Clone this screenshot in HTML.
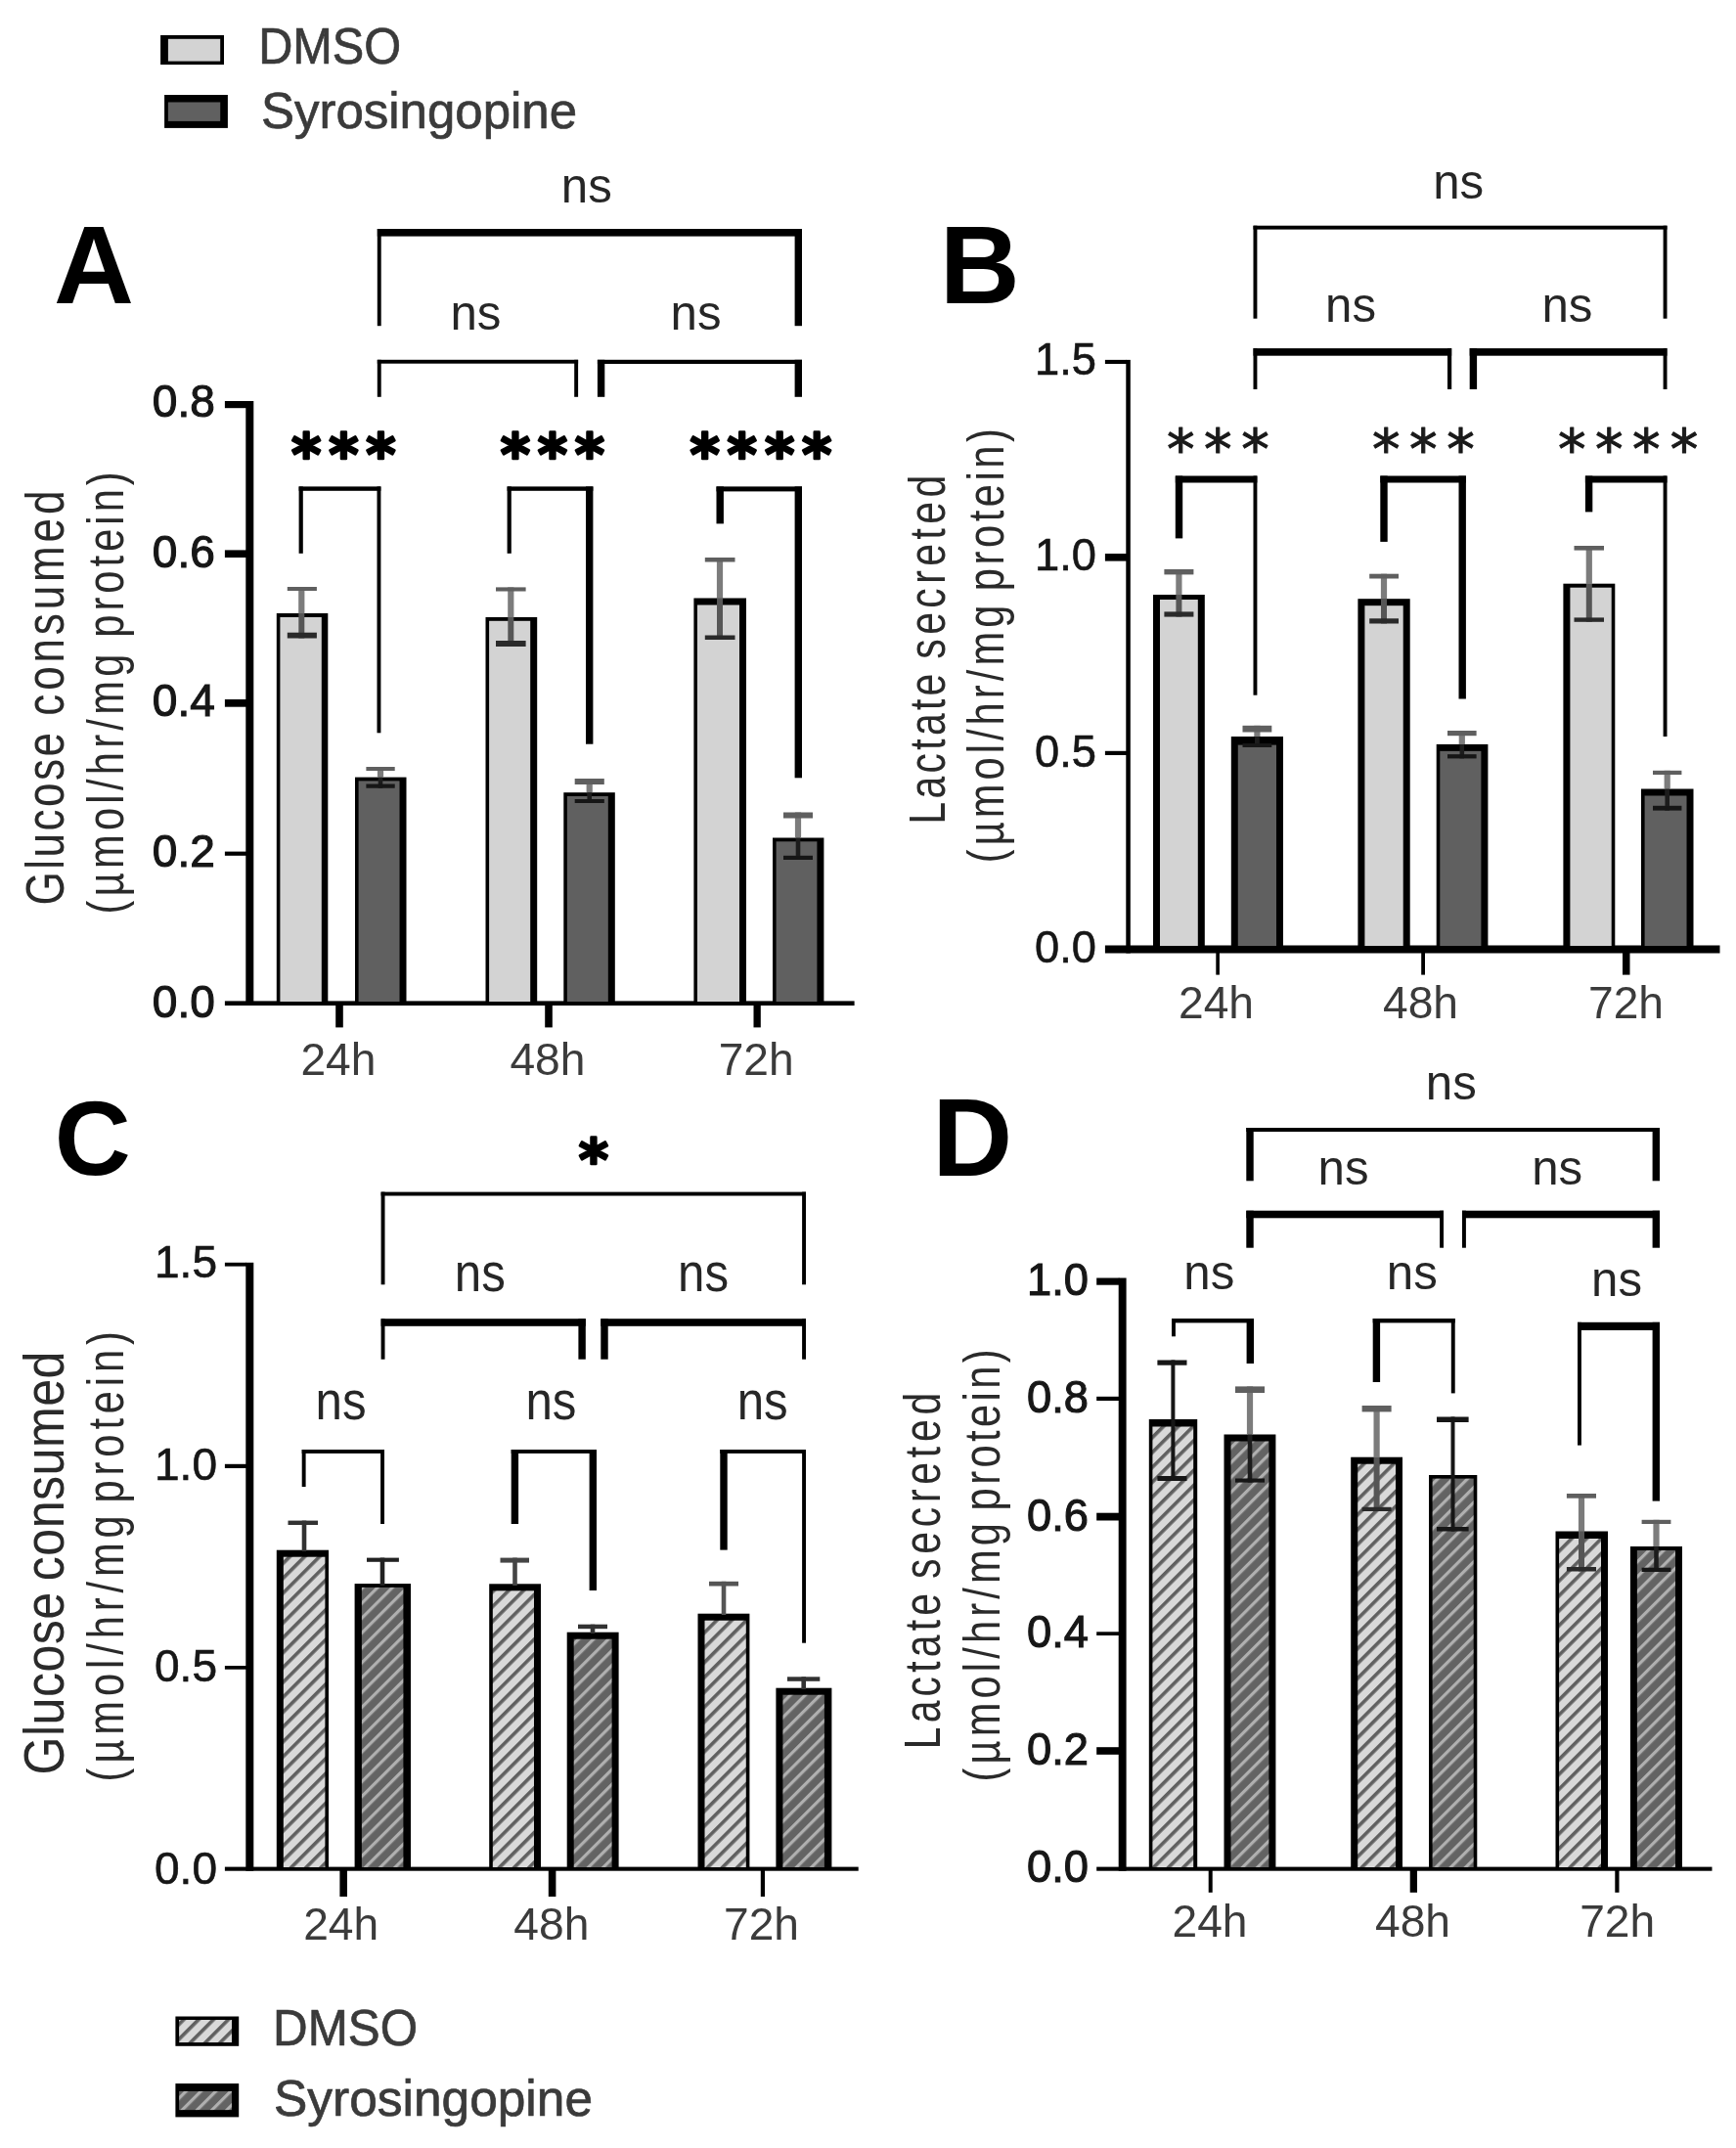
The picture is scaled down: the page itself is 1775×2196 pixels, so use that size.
<!DOCTYPE html>
<html><head><meta charset="utf-8"><title>Figure</title>
<style>html,body{margin:0;padding:0;background:#fff}svg{display:block}text{font-family:"Liberation Sans",sans-serif}text.dj{font-family:"DejaVu Sans",sans-serif}</style></head>
<body>
<svg width="1775" height="2196" viewBox="0 0 1775 2196">
<defs>
<pattern id="hl" width="10.75" height="10.75" patternUnits="userSpaceOnUse" patternTransform="rotate(-45)">
<rect width="10.75" height="10.75" fill="#d9d9d9"/><rect width="10.75" height="3.6" fill="#606060"/></pattern>
<pattern id="hd" width="10.75" height="10.75" patternUnits="userSpaceOnUse" patternTransform="rotate(-45)">
<rect width="10.75" height="10.75" fill="#636363"/><rect width="10.75" height="3.2" fill="#b0b0b0"/></pattern>
<filter id="bl" x="0" y="0" width="1775" height="2196" filterUnits="userSpaceOnUse"><feGaussianBlur stdDeviation="0.75"/></filter>
</defs>
<rect width="1775" height="2196" fill="#fff"/>
<g filter="url(#bl)">
<rect x="164.1" y="36.0" width="64.9" height="30.1" fill="#000"/>
<rect x="171.9" y="39.8" width="53.3" height="22.8" fill="#d3d3d3"/>
<rect x="168.1" y="97.0" width="64.8" height="33.9" fill="#000"/>
<rect x="171.9" y="104.5" width="53.3" height="19.4" fill="#606060"/>
<text x="264.2" y="65.4" font-size="51.7" font-weight="normal" text-anchor="start" fill="#3a3a3a" textLength="146.0" lengthAdjust="spacingAndGlyphs" stroke="#3a3a3a" stroke-width="0.7">DMSO</text>
<text x="267.0" y="131.0" font-size="51.7" font-weight="normal" text-anchor="start" fill="#3a3a3a" textLength="323.0" lengthAdjust="spacingAndGlyphs" stroke="#3a3a3a" stroke-width="0.7">Syrosingopine</text>
<rect x="179.4" y="2061.5" width="64.8" height="30.3" fill="#000"/>
<rect x="183.1" y="2065.0" width="53.9" height="23.1" fill="url(#hl)"/>
<rect x="179.4" y="2130.1" width="64.8" height="34.3" fill="#000"/>
<rect x="183.1" y="2138.0" width="53.9" height="19.1" fill="url(#hd)"/>
<text x="279.0" y="2091.3" font-size="51.7" font-weight="normal" text-anchor="start" fill="#3a3a3a" textLength="148.0" lengthAdjust="spacingAndGlyphs" stroke="#3a3a3a" stroke-width="0.7">DMSO</text>
<text x="280.0" y="2162.6" font-size="51.7" font-weight="normal" text-anchor="start" fill="#3a3a3a" textLength="326.0" lengthAdjust="spacingAndGlyphs" stroke="#3a3a3a" stroke-width="0.7">Syrosingopine</text>
<text x="55.0" y="309.8" font-size="113.5" font-weight="bold" text-anchor="start" fill="#000">A</text>
<text x="960.8" y="310.0" font-size="113.5" font-weight="bold" text-anchor="start" fill="#000">B</text>
<text x="55.8" y="1200.8" font-size="108" font-weight="bold" text-anchor="start" fill="#000">C</text>
<text x="953.2" y="1202.2" font-size="113.5" font-weight="bold" text-anchor="start" fill="#000">D</text>
<text transform="translate(65.2,925.4) rotate(-90) scale(0.8,1)" font-size="55" text-anchor="start" fill="#2c2c2c" textLength="220.6" lengthAdjust="spacing">Glucose</text>
<text transform="translate(65.2,731.7) rotate(-90) scale(0.8,1)" font-size="55" text-anchor="start" fill="#2c2c2c" textLength="287.6" lengthAdjust="spacing">consumed</text>
<text transform="translate(126.3,934.5) rotate(-90) scale(0.8,1)" font-size="52" text-anchor="start" fill="#2c2c2c" textLength="332.3" lengthAdjust="spacing">(µmol/hr/mg</text>
<text transform="translate(126.3,651.8) rotate(-90) scale(0.8,1)" font-size="52" text-anchor="start" fill="#2c2c2c" textLength="211.9" lengthAdjust="spacing">protein)</text>
<text transform="translate(965.8,842.4) rotate(-90) scale(0.8,1)" font-size="51" text-anchor="start" fill="#2c2c2c" textLength="192.1" lengthAdjust="spacing">Lactate</text>
<text transform="translate(965.8,673.7) rotate(-90) scale(0.8,1)" font-size="51" text-anchor="start" fill="#2c2c2c" textLength="234.9" lengthAdjust="spacing">secreted</text>
<text transform="translate(1026.3,882.3) rotate(-90) scale(0.8,1)" font-size="52" text-anchor="start" fill="#2c2c2c" textLength="329.5" lengthAdjust="spacing">(µmol/hr/mg</text>
<text transform="translate(1026.3,604.2) rotate(-90) scale(0.8,1)" font-size="52" text-anchor="start" fill="#2c2c2c" textLength="207.7" lengthAdjust="spacing">protein)</text>
<text transform="translate(65.2,1814.5) rotate(-90) scale(0.88,1)" font-size="57" text-anchor="start" fill="#2c2c2c" textLength="212.2" lengthAdjust="spacing">Glucose</text>
<text transform="translate(65.2,1616.2) rotate(-90) scale(0.88,1)" font-size="57" text-anchor="start" fill="#2c2c2c" textLength="266.6" lengthAdjust="spacing">consumed</text>
<text transform="translate(126.3,1821.4) rotate(-90) scale(0.8,1)" font-size="52" text-anchor="start" fill="#2c2c2c" textLength="340.2" lengthAdjust="spacing">(µmol/hr/mg</text>
<text transform="translate(126.3,1536.4) rotate(-90) scale(0.8,1)" font-size="52" text-anchor="start" fill="#2c2c2c" textLength="219.1" lengthAdjust="spacing">protein)</text>
<text transform="translate(960.8,1788.3) rotate(-90) scale(0.8,1)" font-size="51" text-anchor="start" fill="#2c2c2c" textLength="199.1" lengthAdjust="spacing">Lactate</text>
<text transform="translate(960.8,1613.9) rotate(-90) scale(0.8,1)" font-size="51" text-anchor="start" fill="#2c2c2c" textLength="237.6" lengthAdjust="spacing">secreted</text>
<text transform="translate(1021.7,1821.4) rotate(-90) scale(0.8,1)" font-size="52" text-anchor="start" fill="#2c2c2c" textLength="330.4" lengthAdjust="spacing">(µmol/hr/mg</text>
<text transform="translate(1021.7,1544.4) rotate(-90) scale(0.8,1)" font-size="52" text-anchor="start" fill="#2c2c2c" textLength="206.4" lengthAdjust="spacing">protein)</text>
<rect x="251.3" y="410.0" width="8.0" height="618.0" fill="#000"/>
<rect x="229.9" y="1023.4" width="643.7" height="4.6" fill="#000"/>
<rect x="229.9" y="410.0" width="22.1" height="7.2" fill="#000"/>
<rect x="229.9" y="562.4" width="22.1" height="7.6" fill="#000"/>
<rect x="229.9" y="715.0" width="22.1" height="7.7" fill="#000"/>
<rect x="229.9" y="870.6" width="22.1" height="4.2" fill="#000"/>
<text x="219.8" y="426.2" font-size="47" font-weight="normal" text-anchor="end" fill="#141414" textLength="64.0" lengthAdjust="spacingAndGlyphs" stroke="#141414" stroke-width="1.1">0.8</text>
<text x="219.8" y="579.7" font-size="47" font-weight="normal" text-anchor="end" fill="#141414" textLength="64.0" lengthAdjust="spacingAndGlyphs" stroke="#141414" stroke-width="1.1">0.6</text>
<text x="219.8" y="732.4" font-size="47" font-weight="normal" text-anchor="end" fill="#141414" textLength="64.0" lengthAdjust="spacingAndGlyphs" stroke="#141414" stroke-width="1.1">0.4</text>
<text x="219.8" y="886.2" font-size="47" font-weight="normal" text-anchor="end" fill="#141414" textLength="64.0" lengthAdjust="spacingAndGlyphs" stroke="#141414" stroke-width="1.1">0.2</text>
<text x="219.8" y="1039.9" font-size="47" font-weight="normal" text-anchor="end" fill="#141414" textLength="64.0" lengthAdjust="spacingAndGlyphs" stroke="#141414" stroke-width="1.1">0.0</text>
<rect x="343.2" y="1027.0" width="7.6" height="23.4" fill="#000"/>
<rect x="557.2" y="1027.0" width="7.6" height="23.4" fill="#000"/>
<rect x="770.5" y="1027.0" width="7.3" height="23.4" fill="#000"/>
<text x="345.9" y="1098.5" font-size="45.5" font-weight="normal" text-anchor="middle" fill="#3a3a3a" textLength="77.0" lengthAdjust="spacingAndGlyphs">24h</text>
<text x="559.9" y="1098.5" font-size="45.5" font-weight="normal" text-anchor="middle" fill="#3a3a3a" textLength="77.0" lengthAdjust="spacingAndGlyphs">48h</text>
<text x="773.2" y="1098.5" font-size="45.5" font-weight="normal" text-anchor="middle" fill="#3a3a3a" textLength="77.0" lengthAdjust="spacingAndGlyphs">72h</text>
<rect x="282.8" y="627.0" width="52.5" height="397.0" fill="#000"/>
<rect x="286.4" y="631.0" width="42.4" height="393.0" fill="#d3d3d3"/>
<rect x="363.0" y="794.6" width="52.5" height="229.4" fill="#000"/>
<rect x="366.6" y="798.4" width="41.9" height="225.6" fill="#606060"/>
<rect x="496.5" y="631.0" width="52.7" height="393.0" fill="#000"/>
<rect x="500.1" y="634.8" width="42.1" height="389.2" fill="#d3d3d3"/>
<rect x="576.3" y="810.2" width="52.5" height="213.8" fill="#000"/>
<rect x="579.9" y="814.0" width="41.9" height="210.0" fill="#606060"/>
<rect x="709.4" y="611.5" width="53.6" height="412.5" fill="#000"/>
<rect x="713.0" y="618.5" width="43.0" height="405.5" fill="#d3d3d3"/>
<rect x="790.0" y="856.5" width="52.4" height="167.5" fill="#000"/>
<rect x="793.6" y="860.3" width="41.8" height="163.7" fill="#606060"/>
<rect x="305.2" y="600.0" width="6.2" height="27.0" fill="#7c7c7c"/>
<rect x="305.3" y="627.0" width="6.0" height="25.5" fill="#565656"/>
<rect x="293.8" y="600.0" width="30.1" height="4.0" fill="#5e5e5e"/>
<rect x="293.8" y="646.7" width="30.1" height="5.8" fill="#2a2a2a"/>
<rect x="385.9" y="784.0" width="6.2" height="10.6" fill="#7c7c7c"/>
<rect x="386.7" y="794.6" width="4.6" height="11.1" fill="#1e1e1e"/>
<rect x="374.4" y="784.0" width="29.3" height="4.0" fill="#5e5e5e"/>
<rect x="374.4" y="801.5" width="29.3" height="4.2" fill="#141414"/>
<rect x="519.2" y="600.4" width="6.2" height="30.6" fill="#7c7c7c"/>
<rect x="519.3" y="631.0" width="6.0" height="30.0" fill="#565656"/>
<rect x="507.0" y="600.4" width="30.6" height="4.1" fill="#5e5e5e"/>
<rect x="507.0" y="655.0" width="30.6" height="6.0" fill="#2a2a2a"/>
<rect x="599.6" y="796.0" width="6.2" height="14.2" fill="#7c7c7c"/>
<rect x="600.4" y="810.2" width="4.6" height="10.8" fill="#1e1e1e"/>
<rect x="587.7" y="796.0" width="30.1" height="6.0" fill="#5e5e5e"/>
<rect x="587.7" y="817.0" width="30.1" height="4.0" fill="#141414"/>
<rect x="732.9" y="570.0" width="6.2" height="41.5" fill="#7c7c7c"/>
<rect x="733.0" y="611.5" width="6.0" height="42.5" fill="#565656"/>
<rect x="720.8" y="570.0" width="30.7" height="4.5" fill="#5e5e5e"/>
<rect x="720.8" y="649.5" width="30.7" height="4.5" fill="#2a2a2a"/>
<rect x="812.9" y="830.5" width="6.2" height="26.0" fill="#7c7c7c"/>
<rect x="813.7" y="856.5" width="4.6" height="22.5" fill="#1e1e1e"/>
<rect x="801.0" y="830.5" width="30.0" height="6.0" fill="#5e5e5e"/>
<rect x="801.0" y="874.8" width="30.0" height="4.2" fill="#141414"/>
<rect x="385.8" y="234.0" width="434.2" height="7.6" fill="#000"/>
<rect x="385.8" y="234.0" width="3.9" height="99.2" fill="#000"/>
<rect x="812.6" y="234.0" width="7.4" height="99.2" fill="#000"/>
<rect x="385.8" y="367.8" width="205.3" height="3.9" fill="#000"/>
<rect x="385.8" y="367.8" width="3.9" height="38.0" fill="#000"/>
<rect x="587.2" y="367.8" width="3.9" height="38.0" fill="#000"/>
<rect x="610.9" y="367.8" width="209.1" height="4.2" fill="#000"/>
<rect x="610.9" y="367.8" width="7.4" height="38.0" fill="#000"/>
<rect x="812.6" y="367.8" width="7.4" height="38.0" fill="#000"/>
<rect x="305.6" y="497.4" width="83.8" height="4.4" fill="#000"/>
<rect x="305.6" y="497.4" width="4.2" height="68.4" fill="#000"/>
<rect x="385.5" y="497.4" width="3.9" height="251.9" fill="#000"/>
<rect x="518.6" y="497.4" width="87.8" height="4.4" fill="#000"/>
<rect x="518.6" y="497.4" width="4.2" height="68.4" fill="#000"/>
<rect x="599.0" y="497.4" width="7.4" height="263.3" fill="#000"/>
<rect x="732.5" y="497.4" width="87.5" height="5.0" fill="#000"/>
<rect x="732.5" y="497.4" width="7.4" height="38.0" fill="#000"/>
<rect x="812.6" y="497.4" width="7.4" height="297.9" fill="#000"/>
<text x="599.8" y="207.0" font-size="50.7" font-weight="normal" text-anchor="middle" fill="#262626" textLength="52.0" lengthAdjust="spacingAndGlyphs">ns</text>
<text x="486.4" y="336.7" font-size="50.7" font-weight="normal" text-anchor="middle" fill="#262626" textLength="52.0" lengthAdjust="spacingAndGlyphs">ns</text>
<text x="711.5" y="336.7" font-size="50.7" font-weight="normal" text-anchor="middle" fill="#262626" textLength="52.0" lengthAdjust="spacingAndGlyphs">ns</text>
<text class="dj" x="298.0" y="484.5" font-size="58" font-weight="bold" fill="#000" stroke="#000" stroke-width="2.6" stroke-linejoin="round">*</text>
<text class="dj" x="336.2" y="484.5" font-size="58" font-weight="bold" fill="#000" stroke="#000" stroke-width="2.6" stroke-linejoin="round">*</text>
<text class="dj" x="374.2" y="484.5" font-size="58" font-weight="bold" fill="#000" stroke="#000" stroke-width="2.6" stroke-linejoin="round">*</text>
<text class="dj" x="511.7" y="484.5" font-size="58" font-weight="bold" fill="#000" stroke="#000" stroke-width="2.6" stroke-linejoin="round">*</text>
<text class="dj" x="549.8" y="484.5" font-size="58" font-weight="bold" fill="#000" stroke="#000" stroke-width="2.6" stroke-linejoin="round">*</text>
<text class="dj" x="587.8" y="484.5" font-size="58" font-weight="bold" fill="#000" stroke="#000" stroke-width="2.6" stroke-linejoin="round">*</text>
<text class="dj" x="705.6" y="484.5" font-size="58" font-weight="bold" fill="#000" stroke="#000" stroke-width="2.6" stroke-linejoin="round">*</text>
<text class="dj" x="743.6" y="484.5" font-size="58" font-weight="bold" fill="#000" stroke="#000" stroke-width="2.6" stroke-linejoin="round">*</text>
<text class="dj" x="782.0" y="484.5" font-size="58" font-weight="bold" fill="#000" stroke="#000" stroke-width="2.6" stroke-linejoin="round">*</text>
<text class="dj" x="820.0" y="484.5" font-size="58" font-weight="bold" fill="#000" stroke="#000" stroke-width="2.6" stroke-linejoin="round">*</text>
<rect x="1151.3" y="367.9" width="4.5" height="606.6" fill="#000"/>
<rect x="1129.9" y="966.5" width="628.6" height="8.0" fill="#000"/>
<rect x="1129.9" y="367.9" width="22.1" height="4.1" fill="#000"/>
<rect x="1129.9" y="566.0" width="22.1" height="7.6" fill="#000"/>
<rect x="1129.9" y="767.8" width="22.1" height="4.2" fill="#000"/>
<text x="1121.0" y="382.6" font-size="47" font-weight="normal" text-anchor="end" fill="#141414" textLength="63.0" lengthAdjust="spacingAndGlyphs" stroke="#141414" stroke-width="0.6">1.5</text>
<text x="1121.0" y="583.4" font-size="47" font-weight="normal" text-anchor="end" fill="#141414" textLength="63.0" lengthAdjust="spacingAndGlyphs" stroke="#141414" stroke-width="0.6">1.0</text>
<text x="1121.0" y="784.3" font-size="47" font-weight="normal" text-anchor="end" fill="#141414" textLength="63.0" lengthAdjust="spacingAndGlyphs" stroke="#141414" stroke-width="0.6">0.5</text>
<text x="1121.0" y="984.3" font-size="47" font-weight="normal" text-anchor="end" fill="#141414" textLength="63.0" lengthAdjust="spacingAndGlyphs" stroke="#141414" stroke-width="0.6">0.0</text>
<rect x="1243.3" y="974.0" width="3.6" height="22.6" fill="#000"/>
<rect x="1453.2" y="974.0" width="3.8" height="22.6" fill="#000"/>
<rect x="1659.0" y="974.0" width="7.5" height="22.6" fill="#000"/>
<text x="1243.5" y="1040.5" font-size="45.5" font-weight="normal" text-anchor="middle" fill="#3a3a3a" textLength="77.0" lengthAdjust="spacingAndGlyphs">24h</text>
<text x="1452.5" y="1040.5" font-size="45.5" font-weight="normal" text-anchor="middle" fill="#3a3a3a" textLength="77.0" lengthAdjust="spacingAndGlyphs">48h</text>
<text x="1662.5" y="1040.5" font-size="45.5" font-weight="normal" text-anchor="middle" fill="#3a3a3a" textLength="77.0" lengthAdjust="spacingAndGlyphs">72h</text>
<rect x="1179.0" y="608.0" width="52.8" height="359.0" fill="#000"/>
<rect x="1186.0" y="613.0" width="38.8" height="354.0" fill="#d3d3d3"/>
<rect x="1258.8" y="753.0" width="53.2" height="214.0" fill="#000"/>
<rect x="1265.8" y="761.6" width="39.2" height="205.4" fill="#606060"/>
<rect x="1388.4" y="612.2" width="53.3" height="354.8" fill="#000"/>
<rect x="1395.4" y="619.2" width="39.3" height="347.8" fill="#d3d3d3"/>
<rect x="1468.7" y="760.9" width="52.7" height="206.1" fill="#000"/>
<rect x="1472.3" y="767.9" width="42.1" height="199.1" fill="#606060"/>
<rect x="1598.4" y="596.7" width="52.9" height="370.3" fill="#000"/>
<rect x="1605.4" y="600.7" width="42.3" height="366.3" fill="#d3d3d3"/>
<rect x="1678.0" y="806.5" width="53.5" height="160.5" fill="#000"/>
<rect x="1681.6" y="813.5" width="42.9" height="153.5" fill="#606060"/>
<rect x="1202.3" y="582.0" width="6.2" height="26.0" fill="#7c7c7c"/>
<rect x="1202.4" y="608.0" width="6.0" height="22.6" fill="#565656"/>
<rect x="1190.4" y="582.0" width="30.0" height="5.4" fill="#5e5e5e"/>
<rect x="1190.4" y="625.4" width="30.0" height="5.2" fill="#2a2a2a"/>
<rect x="1282.3" y="741.8" width="6.2" height="11.2" fill="#7c7c7c"/>
<rect x="1283.1" y="753.0" width="4.6" height="11.0" fill="#1e1e1e"/>
<rect x="1270.5" y="741.8" width="29.8" height="6.7" fill="#5e5e5e"/>
<rect x="1270.5" y="760.0" width="29.8" height="4.0" fill="#141414"/>
<rect x="1411.9" y="586.7" width="6.2" height="25.5" fill="#7c7c7c"/>
<rect x="1412.0" y="612.2" width="6.0" height="25.3" fill="#565656"/>
<rect x="1400.2" y="586.7" width="29.8" height="4.8" fill="#5e5e5e"/>
<rect x="1400.2" y="632.3" width="29.8" height="5.2" fill="#2a2a2a"/>
<rect x="1491.7" y="747.0" width="6.2" height="13.9" fill="#7c7c7c"/>
<rect x="1492.5" y="760.9" width="4.6" height="14.5" fill="#1e1e1e"/>
<rect x="1480.0" y="747.0" width="29.6" height="5.2" fill="#5e5e5e"/>
<rect x="1480.0" y="771.2" width="29.6" height="4.2" fill="#141414"/>
<rect x="1621.7" y="558.0" width="6.2" height="38.7" fill="#7c7c7c"/>
<rect x="1621.8" y="596.7" width="6.0" height="39.1" fill="#565656"/>
<rect x="1609.5" y="558.0" width="30.5" height="4.6" fill="#5e5e5e"/>
<rect x="1609.5" y="631.4" width="30.5" height="4.4" fill="#2a2a2a"/>
<rect x="1701.6" y="787.8" width="6.2" height="18.7" fill="#7c7c7c"/>
<rect x="1702.4" y="806.5" width="4.6" height="22.1" fill="#1e1e1e"/>
<rect x="1690.0" y="787.8" width="29.4" height="4.2" fill="#5e5e5e"/>
<rect x="1690.0" y="823.8" width="29.4" height="4.8" fill="#141414"/>
<rect x="1281.5" y="230.7" width="423.0" height="3.9" fill="#000"/>
<rect x="1281.5" y="230.7" width="3.9" height="95.0" fill="#000"/>
<rect x="1700.6" y="230.7" width="3.9" height="95.0" fill="#000"/>
<rect x="1281.5" y="356.1" width="202.7" height="7.6" fill="#000"/>
<rect x="1281.5" y="356.1" width="3.9" height="41.9" fill="#000"/>
<rect x="1480.0" y="356.1" width="4.2" height="41.9" fill="#000"/>
<rect x="1502.7" y="356.1" width="201.8" height="7.6" fill="#000"/>
<rect x="1502.7" y="356.1" width="7.4" height="41.9" fill="#000"/>
<rect x="1700.6" y="356.1" width="3.9" height="41.9" fill="#000"/>
<rect x="1201.8" y="486.5" width="83.6" height="7.0" fill="#000"/>
<rect x="1201.8" y="486.5" width="7.4" height="63.9" fill="#000"/>
<rect x="1281.5" y="486.5" width="3.9" height="224.2" fill="#000"/>
<rect x="1411.3" y="486.5" width="87.6" height="7.0" fill="#000"/>
<rect x="1411.3" y="486.5" width="7.4" height="67.4" fill="#000"/>
<rect x="1491.5" y="486.5" width="7.4" height="228.0" fill="#000"/>
<rect x="1620.9" y="486.5" width="83.6" height="7.0" fill="#000"/>
<rect x="1620.9" y="486.5" width="7.4" height="36.9" fill="#000"/>
<rect x="1700.6" y="486.5" width="3.9" height="266.5" fill="#000"/>
<text x="1491.2" y="203.0" font-size="50.7" font-weight="normal" text-anchor="middle" fill="#262626" textLength="52.0" lengthAdjust="spacingAndGlyphs">ns</text>
<text x="1381.0" y="328.8" font-size="50.7" font-weight="normal" text-anchor="middle" fill="#262626" textLength="52.0" lengthAdjust="spacingAndGlyphs">ns</text>
<text x="1602.4" y="328.8" font-size="50.7" font-weight="normal" text-anchor="middle" fill="#262626" textLength="52.0" lengthAdjust="spacingAndGlyphs">ns</text>
<text class="dj" x="1193.0" y="479.3" font-size="57" font-weight="normal" fill="#1a1a1a" stroke="#1a1a1a" stroke-width="1.0" stroke-linejoin="round">*</text>
<text class="dj" x="1231.0" y="479.3" font-size="57" font-weight="normal" fill="#1a1a1a" stroke="#1a1a1a" stroke-width="1.0" stroke-linejoin="round">*</text>
<text class="dj" x="1269.3" y="479.3" font-size="57" font-weight="normal" fill="#1a1a1a" stroke="#1a1a1a" stroke-width="1.0" stroke-linejoin="round">*</text>
<text class="dj" x="1403.0" y="479.3" font-size="57" font-weight="normal" fill="#1a1a1a" stroke="#1a1a1a" stroke-width="1.0" stroke-linejoin="round">*</text>
<text class="dj" x="1441.0" y="479.3" font-size="57" font-weight="normal" fill="#1a1a1a" stroke="#1a1a1a" stroke-width="1.0" stroke-linejoin="round">*</text>
<text class="dj" x="1479.3" y="479.3" font-size="57" font-weight="normal" fill="#1a1a1a" stroke="#1a1a1a" stroke-width="1.0" stroke-linejoin="round">*</text>
<text class="dj" x="1593.0" y="479.3" font-size="57" font-weight="normal" fill="#1a1a1a" stroke="#1a1a1a" stroke-width="1.0" stroke-linejoin="round">*</text>
<text class="dj" x="1631.0" y="479.3" font-size="57" font-weight="normal" fill="#1a1a1a" stroke="#1a1a1a" stroke-width="1.0" stroke-linejoin="round">*</text>
<text class="dj" x="1669.0" y="479.3" font-size="57" font-weight="normal" fill="#1a1a1a" stroke="#1a1a1a" stroke-width="1.0" stroke-linejoin="round">*</text>
<text class="dj" x="1707.8" y="479.3" font-size="57" font-weight="normal" fill="#1a1a1a" stroke="#1a1a1a" stroke-width="1.0" stroke-linejoin="round">*</text>
<rect x="251.3" y="1290.8" width="8.0" height="621.9" fill="#000"/>
<rect x="229.9" y="1908.6" width="647.8" height="4.1" fill="#000"/>
<rect x="229.9" y="1290.8" width="22.1" height="3.8" fill="#000"/>
<rect x="229.9" y="1496.8" width="22.1" height="4.2" fill="#000"/>
<rect x="229.9" y="1703.0" width="22.1" height="3.7" fill="#000"/>
<text x="222.0" y="1305.8" font-size="47" font-weight="normal" text-anchor="end" fill="#141414" textLength="64.0" lengthAdjust="spacingAndGlyphs" stroke="#141414" stroke-width="0.6">1.5</text>
<text x="222.0" y="1512.5" font-size="47" font-weight="normal" text-anchor="end" fill="#141414" textLength="64.0" lengthAdjust="spacingAndGlyphs" stroke="#141414" stroke-width="0.6">1.0</text>
<text x="222.0" y="1718.5" font-size="47" font-weight="normal" text-anchor="end" fill="#141414" textLength="64.0" lengthAdjust="spacingAndGlyphs" stroke="#141414" stroke-width="0.6">0.5</text>
<text x="222.0" y="1925.7" font-size="47" font-weight="normal" text-anchor="end" fill="#141414" textLength="64.0" lengthAdjust="spacingAndGlyphs" stroke="#141414" stroke-width="0.6">0.0</text>
<rect x="347.4" y="1912.0" width="7.6" height="27.0" fill="#000"/>
<rect x="560.8" y="1912.0" width="7.6" height="27.0" fill="#000"/>
<rect x="777.8" y="1912.0" width="4.2" height="27.0" fill="#000"/>
<text x="348.7" y="1983.3" font-size="45.5" font-weight="normal" text-anchor="middle" fill="#3a3a3a" textLength="77.0" lengthAdjust="spacingAndGlyphs">24h</text>
<text x="563.8" y="1983.3" font-size="45.5" font-weight="normal" text-anchor="middle" fill="#3a3a3a" textLength="77.0" lengthAdjust="spacingAndGlyphs">48h</text>
<text x="778.5" y="1983.3" font-size="45.5" font-weight="normal" text-anchor="middle" fill="#3a3a3a" textLength="77.0" lengthAdjust="spacingAndGlyphs">72h</text>
<rect x="282.8" y="1584.7" width="53.2" height="324.3" fill="#000"/>
<rect x="289.8" y="1591.7" width="42.6" height="317.3" fill="url(#hl)"/>
<rect x="362.6" y="1619.1" width="57.4" height="289.9" fill="#000"/>
<rect x="369.9" y="1622.9" width="42.5" height="286.1" fill="url(#hd)"/>
<rect x="500.2" y="1619.3" width="52.8" height="289.7" fill="#000"/>
<rect x="503.8" y="1626.3" width="42.2" height="282.7" fill="url(#hl)"/>
<rect x="579.7" y="1668.7" width="52.9" height="240.3" fill="#000"/>
<rect x="586.7" y="1675.7" width="38.9" height="233.3" fill="url(#hd)"/>
<rect x="713.5" y="1649.7" width="52.9" height="259.3" fill="#000"/>
<rect x="720.5" y="1656.7" width="42.3" height="252.3" fill="url(#hl)"/>
<rect x="793.4" y="1725.7" width="57.0" height="183.3" fill="#000"/>
<rect x="800.4" y="1732.7" width="42.5" height="176.3" fill="url(#hd)"/>
<rect x="308.7" y="1554.6" width="4.6" height="31.4" fill="#333"/>
<rect x="294.5" y="1554.6" width="30.5" height="4.4" fill="#333"/>
<rect x="388.7" y="1592.6" width="4.6" height="28.4" fill="#222"/>
<rect x="375.0" y="1592.6" width="32.9" height="4.2" fill="#222"/>
<rect x="524.2" y="1592.6" width="4.6" height="28.4" fill="#444"/>
<rect x="511.5" y="1592.6" width="29.5" height="5.0" fill="#444"/>
<rect x="603.7" y="1660.7" width="4.6" height="9.3" fill="#333"/>
<rect x="591.0" y="1660.7" width="30.0" height="4.5" fill="#333"/>
<rect x="737.7" y="1616.8" width="4.6" height="34.2" fill="#555"/>
<rect x="725.0" y="1616.8" width="30.0" height="4.7" fill="#555"/>
<rect x="819.4" y="1714.3" width="4.6" height="12.7" fill="#333"/>
<rect x="805.0" y="1714.3" width="33.3" height="4.5" fill="#333"/>
<rect x="389.6" y="1218.6" width="434.4" height="3.9" fill="#000"/>
<rect x="389.6" y="1218.6" width="3.9" height="94.7" fill="#000"/>
<rect x="820.1" y="1218.6" width="3.9" height="94.7" fill="#000"/>
<rect x="389.6" y="1348.2" width="209.2" height="7.6" fill="#000"/>
<rect x="389.6" y="1348.2" width="3.9" height="41.5" fill="#000"/>
<rect x="591.4" y="1348.2" width="7.4" height="41.5" fill="#000"/>
<rect x="614.3" y="1348.2" width="209.7" height="7.6" fill="#000"/>
<rect x="614.3" y="1348.2" width="7.4" height="41.5" fill="#000"/>
<rect x="820.1" y="1348.2" width="3.9" height="41.5" fill="#000"/>
<rect x="308.7" y="1482.0" width="84.3" height="3.9" fill="#000"/>
<rect x="308.7" y="1482.0" width="3.9" height="38.0" fill="#000"/>
<rect x="389.1" y="1482.0" width="3.9" height="76.0" fill="#000"/>
<rect x="522.7" y="1482.0" width="87.3" height="3.9" fill="#000"/>
<rect x="522.7" y="1482.0" width="7.4" height="76.0" fill="#000"/>
<rect x="602.6" y="1482.0" width="7.4" height="144.0" fill="#000"/>
<rect x="736.3" y="1482.0" width="87.7" height="3.9" fill="#000"/>
<rect x="736.3" y="1482.0" width="7.4" height="102.6" fill="#000"/>
<rect x="820.1" y="1482.0" width="3.9" height="197.7" fill="#000"/>
<text class="dj" x="591.7" y="1205.5" font-size="58" font-weight="bold" fill="#000" stroke="#000" stroke-width="2.6" stroke-linejoin="round">*</text>
<text x="490.8" y="1319.5" font-size="56" font-weight="normal" text-anchor="middle" fill="#262626" textLength="52.0" lengthAdjust="spacingAndGlyphs">ns</text>
<text x="719.0" y="1319.5" font-size="56" font-weight="normal" text-anchor="middle" fill="#262626" textLength="52.0" lengthAdjust="spacingAndGlyphs">ns</text>
<text x="348.6" y="1450.8" font-size="56" font-weight="normal" text-anchor="middle" fill="#262626" textLength="52.0" lengthAdjust="spacingAndGlyphs">ns</text>
<text x="563.4" y="1450.8" font-size="56" font-weight="normal" text-anchor="middle" fill="#262626" textLength="52.0" lengthAdjust="spacingAndGlyphs">ns</text>
<text x="779.7" y="1450.8" font-size="56" font-weight="normal" text-anchor="middle" fill="#262626" textLength="52.0" lengthAdjust="spacingAndGlyphs">ns</text>
<rect x="1143.7" y="1306.5" width="7.9" height="606.2" fill="#000"/>
<rect x="1121.2" y="1908.6" width="629.3" height="4.1" fill="#000"/>
<rect x="1121.2" y="1306.5" width="23.3" height="7.2" fill="#000"/>
<rect x="1121.2" y="1427.8" width="23.3" height="4.2" fill="#000"/>
<rect x="1121.2" y="1546.7" width="23.3" height="7.8" fill="#000"/>
<rect x="1121.2" y="1668.3" width="23.3" height="3.7" fill="#000"/>
<rect x="1121.2" y="1786.2" width="23.3" height="7.6" fill="#000"/>
<text x="1113.0" y="1323.9" font-size="47" font-weight="normal" text-anchor="end" fill="#141414" textLength="63.0" lengthAdjust="spacingAndGlyphs" stroke="#141414" stroke-width="1.1">1.0</text>
<text x="1113.0" y="1443.5" font-size="47" font-weight="normal" text-anchor="end" fill="#141414" textLength="63.0" lengthAdjust="spacingAndGlyphs" stroke="#141414" stroke-width="1.1">0.8</text>
<text x="1113.0" y="1564.9" font-size="47" font-weight="normal" text-anchor="end" fill="#141414" textLength="63.0" lengthAdjust="spacingAndGlyphs" stroke="#141414" stroke-width="1.1">0.6</text>
<text x="1113.0" y="1683.7" font-size="47" font-weight="normal" text-anchor="end" fill="#141414" textLength="63.0" lengthAdjust="spacingAndGlyphs" stroke="#141414" stroke-width="1.1">0.4</text>
<text x="1113.0" y="1804.0" font-size="47" font-weight="normal" text-anchor="end" fill="#141414" textLength="63.0" lengthAdjust="spacingAndGlyphs" stroke="#141414" stroke-width="1.1">0.2</text>
<text x="1113.0" y="1923.7" font-size="47" font-weight="normal" text-anchor="end" fill="#141414" textLength="63.0" lengthAdjust="spacingAndGlyphs" stroke="#141414" stroke-width="1.1">0.0</text>
<rect x="1235.7" y="1912.0" width="4.0" height="22.8" fill="#000"/>
<rect x="1441.7" y="1912.0" width="7.3" height="22.8" fill="#000"/>
<rect x="1651.3" y="1912.0" width="4.2" height="22.8" fill="#000"/>
<text x="1237.0" y="1980.3" font-size="45.5" font-weight="normal" text-anchor="middle" fill="#3a3a3a" textLength="77.0" lengthAdjust="spacingAndGlyphs">24h</text>
<text x="1444.5" y="1980.3" font-size="45.5" font-weight="normal" text-anchor="middle" fill="#3a3a3a" textLength="77.0" lengthAdjust="spacingAndGlyphs">48h</text>
<text x="1653.7" y="1980.3" font-size="45.5" font-weight="normal" text-anchor="middle" fill="#3a3a3a" textLength="77.0" lengthAdjust="spacingAndGlyphs">72h</text>
<rect x="1174.8" y="1451.0" width="49.4" height="458.0" fill="#000"/>
<rect x="1178.4" y="1458.5" width="41.8" height="450.5" fill="url(#hl)"/>
<rect x="1251.5" y="1466.5" width="52.9" height="442.5" fill="#000"/>
<rect x="1258.5" y="1473.5" width="38.9" height="435.5" fill="url(#hd)"/>
<rect x="1381.2" y="1489.7" width="52.8" height="419.3" fill="#000"/>
<rect x="1388.2" y="1496.7" width="38.8" height="412.3" fill="url(#hl)"/>
<rect x="1461.0" y="1508.0" width="49.3" height="401.0" fill="#000"/>
<rect x="1464.6" y="1511.6" width="42.1" height="397.4" fill="url(#hd)"/>
<rect x="1590.5" y="1565.5" width="53.5" height="343.5" fill="#000"/>
<rect x="1594.1" y="1573.0" width="42.9" height="336.0" fill="url(#hl)"/>
<rect x="1666.9" y="1581.0" width="53.1" height="328.0" fill="#000"/>
<rect x="1673.9" y="1585.0" width="39.1" height="324.0" fill="url(#hd)"/>
<rect x="1197.4" y="1390.5" width="4.0" height="123.5" fill="#141414"/>
<rect x="1183.4" y="1390.5" width="30.1" height="5.2" fill="#141414"/>
<rect x="1183.4" y="1509.0" width="30.1" height="5.0" fill="#141414"/>
<rect x="1274.9" y="1417.4" width="6.2" height="49.1" fill="#7c7c7c"/>
<rect x="1275.7" y="1466.5" width="4.6" height="49.1" fill="#1e1e1e"/>
<rect x="1263.0" y="1417.4" width="30.0" height="6.6" fill="#5e5e5e"/>
<rect x="1263.0" y="1511.5" width="30.0" height="4.1" fill="#141414"/>
<rect x="1404.5" y="1437.0" width="6.2" height="52.7" fill="#7c7c7c"/>
<rect x="1404.6" y="1489.7" width="6.0" height="55.3" fill="#565656"/>
<rect x="1392.6" y="1437.0" width="30.0" height="6.4" fill="#5e5e5e"/>
<rect x="1392.6" y="1540.8" width="30.0" height="4.2" fill="#2a2a2a"/>
<rect x="1483.5" y="1448.5" width="4.0" height="117.0" fill="#141414"/>
<rect x="1469.0" y="1448.5" width="32.6" height="5.5" fill="#141414"/>
<rect x="1469.0" y="1561.0" width="32.6" height="4.5" fill="#141414"/>
<rect x="1613.9" y="1527.0" width="6.2" height="38.5" fill="#7c7c7c"/>
<rect x="1614.0" y="1565.5" width="6.0" height="41.0" fill="#565656"/>
<rect x="1601.9" y="1527.0" width="30.1" height="4.7" fill="#5e5e5e"/>
<rect x="1601.9" y="1602.0" width="30.1" height="4.5" fill="#2a2a2a"/>
<rect x="1690.4" y="1553.8" width="6.2" height="27.2" fill="#7c7c7c"/>
<rect x="1691.2" y="1581.0" width="4.6" height="26.0" fill="#1e1e1e"/>
<rect x="1678.6" y="1553.8" width="29.8" height="4.2" fill="#5e5e5e"/>
<rect x="1678.6" y="1602.7" width="29.8" height="4.3" fill="#141414"/>
<rect x="1274.3" y="1153.0" width="422.7" height="4.0" fill="#000"/>
<rect x="1274.3" y="1153.0" width="7.4" height="54.3" fill="#000"/>
<rect x="1689.6" y="1153.0" width="7.4" height="54.3" fill="#000"/>
<rect x="1274.3" y="1237.7" width="201.7" height="7.6" fill="#000"/>
<rect x="1274.3" y="1237.7" width="7.4" height="38.0" fill="#000"/>
<rect x="1472.1" y="1237.7" width="3.9" height="38.0" fill="#000"/>
<rect x="1495.0" y="1237.7" width="202.0" height="7.6" fill="#000"/>
<rect x="1495.0" y="1237.7" width="3.9" height="38.0" fill="#000"/>
<rect x="1689.6" y="1237.7" width="7.4" height="38.0" fill="#000"/>
<rect x="1198.0" y="1348.0" width="84.0" height="4.4" fill="#000"/>
<rect x="1198.0" y="1348.0" width="3.9" height="18.3" fill="#000"/>
<rect x="1274.6" y="1348.0" width="7.4" height="46.0" fill="#000"/>
<rect x="1403.7" y="1348.0" width="84.0" height="4.4" fill="#000"/>
<rect x="1403.7" y="1348.0" width="7.4" height="65.0" fill="#000"/>
<rect x="1483.8" y="1348.0" width="3.9" height="76.4" fill="#000"/>
<rect x="1613.0" y="1351.8" width="84.0" height="8.2" fill="#000"/>
<rect x="1613.0" y="1351.8" width="3.9" height="125.8" fill="#000"/>
<rect x="1689.6" y="1351.8" width="7.4" height="182.8" fill="#000"/>
<text x="1483.8" y="1124.3" font-size="50.7" font-weight="normal" text-anchor="middle" fill="#262626" textLength="52.0" lengthAdjust="spacingAndGlyphs">ns</text>
<text x="1373.5" y="1210.7" font-size="50.7" font-weight="normal" text-anchor="middle" fill="#262626" textLength="52.0" lengthAdjust="spacingAndGlyphs">ns</text>
<text x="1592.2" y="1210.7" font-size="50.7" font-weight="normal" text-anchor="middle" fill="#262626" textLength="52.0" lengthAdjust="spacingAndGlyphs">ns</text>
<text x="1236.3" y="1317.9" font-size="50.7" font-weight="normal" text-anchor="middle" fill="#262626" textLength="52.0" lengthAdjust="spacingAndGlyphs">ns</text>
<text x="1443.8" y="1317.9" font-size="50.7" font-weight="normal" text-anchor="middle" fill="#262626" textLength="52.0" lengthAdjust="spacingAndGlyphs">ns</text>
<text x="1653.0" y="1324.8" font-size="50.7" font-weight="normal" text-anchor="middle" fill="#262626" textLength="52.0" lengthAdjust="spacingAndGlyphs">ns</text>
</g>
</svg>
</body></html>
